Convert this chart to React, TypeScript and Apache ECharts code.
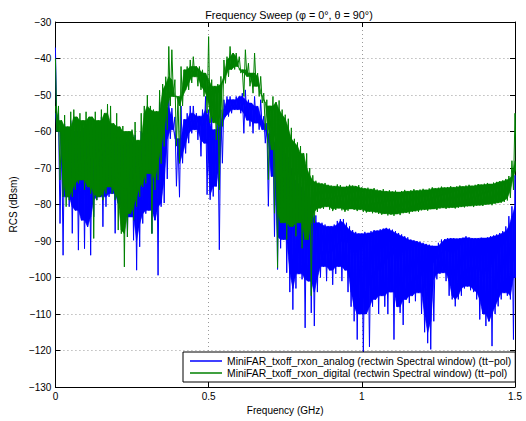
import React, { useEffect, useRef } from "react";
import * as echarts from "echarts";

// Frequency grid: one envelope pair every 0.01 GHz from 0 to 1.5 GHz
const FREQ_START = 0;
const FREQ_STEP = 0.01;

// Tick values
const xTicks = [0, 0.5, 1, 1.5];
const yTicks = [-130, -120, -110, -100, -90, -80, -70, -60, -50, -40, -30];

const TITLE = "Frequency Sweep (\u03c6 = 0\u00b0, \u03b8 = 90\u00b0)";
const NAME_ANALOG = "MiniFAR_txoff_rxon_analog (rectwin Spectral window) (tt\u2212pol)";
const NAME_DIGITAL = "MiniFAR_txoff_rxon_digital (rectwin Spectral window) (tt\u2212pol)";

// Digital (green) trace: upper and lower extremes of the noisy trace, per 0.01 GHz
const digitalPeak = [
  -40, -53, -57, -55.5, -58.7, -54.6, -54, -56, -55, -57,
  -54.6, -56, -56, -54.6, -57, -54, -55, -52.5, -53, -57.8,
  -55, -58.7, -58.5, -60, -60, -59.5, -57.4, -62.4, -55, -53,
  -50, -53, -54, -54.5, -48.7, -47, -45, -36.7, -37.6, -45.8,
  -50.4, -42.2, -43.1, -42.2, -40.4, -39.5, -42.2, -42.2, -43.1, -44,
  -34, -45.8, -47.6, -47, -44.9, -40.4, -39.5, -36.7, -38.5, -38.5,
  -39.5, -43.1, -37.6, -41.3, -44, -38.5, -44, -44.9, -49.5, -51.3,
  -53, -50.4, -52, -51.5, -54, -55.4, -56.5, -59, -62, -63,
  -64, -66, -66, -70, -72, -73.5, -74, -74.3, -74.1, -74.6,
  -74.8, -75, -74.5, -74.7, -75.2, -74.9, -74.6, -74.8, -75, -74.7,
  -75.3, -75.6, -75.4, -75.8, -75.5, -75.9, -76.2, -75.8, -76.4, -76.1,
  -76.5, -76.2, -76.6, -76.3, -76, -76.4, -76.1, -75.8, -76.2, -75.9,
  -75.7, -76, -75.6, -75.3, -75.6, -75.4, -75.1, -75.4, -75.2, -75,
  -75.3, -75, -74.8, -75.1, -74.8, -74.6, -74.9, -74.6, -74.4, -74.6,
  -74.3, -74.1, -74.4, -74, -73.8, -73.6, -73.4, -73, -72.2, -68,
  -55,
];
const digitalTrough = [
  -60, -73.3, -77.9, -80.6, -78.8, -77.9, -76, -74.2, -73.3, -76,
  -75.2, -77, -89.3, -78.8, -77.9, -78.8, -77, -75.2, -77, -78.8,
  -87, -88, -97.1, -88.9, -82.5, -84.3, -80.6, -77.9, -75.2, -74.2,
  -71.5, -88, -76, -73.3, -68.8, -64.1, -59.5, -53, -50.4, -64,
  -68.7, -53, -48.6, -48.6, -46.7, -45, -47.6, -48.6, -50.4, -54.9,
  -57.6, -57.6, -62.3, -76, -58.6, -46.8, -45, -43, -43, -42.2,
  -44, -50.4, -44.9, -47.6, -49.5, -47.6, -50.4, -52.2, -59.5, -73.2,
  -65, -82.4, -97.3, -85, -85, -89.6, -86, -86, -88.7, -85,
  -92, -89.6, -89.6, -105, -85, -82, -81, -81.2, -80.6, -81.4,
  -81.8, -81.5, -81, -81.6, -82, -81.7, -81.2, -81.5, -81.8, -81.4,
  -82, -82.2, -81.9, -82.4, -82.1, -82.6, -82.8, -82.5, -83, -82.7,
  -83.1, -82.6, -82.9, -82.4, -82.2, -82.5, -82, -81.8, -82, -81.6,
  -81.4, -81.7, -81.3, -81.2, -81.5, -81.1, -80.9, -81.2, -81, -80.8,
  -81.1, -80.9, -80.6, -80.8, -80.5, -80.4, -80.7, -80.3, -80.2, -80.4,
  -80.1, -79.9, -80.2, -79.8, -79.6, -79.5, -79.3, -78.9, -78.2, -76,
  -70,
];

// Analog (blue) trace: upper and lower extremes per 0.01 GHz
const analogPeak = [
  -37, -55, -60, -58, -61, -57, -60, -58, -60, -59,
  -58, -60, -59, -57, -60, -56, -58, -57, -58, -60,
  -59, -61, -62, -63, -62, -63, -61, -64, -60, -59,
  -57, -58, -58, -57, -52, -53, -52, -51, -53.6, -56,
  -62, -53, -56.7, -55, -53, -53, -55, -55.8, -54, -50.4,
  -54, -55.8, -59.5, -57.7, -54, -51.3, -50.4, -50.4, -51.3, -50.4,
  -50.4, -49.5, -48.6, -51.3, -52.2, -50.4, -53.1, -51.3, -55.8, -57.7,
  -59.5, -61.4, -62, -64, -63, -66, -67, -70, -72, -73,
  -74, -75, -76, -78, -80, -83, -85, -85, -85.5, -86,
  -86, -85.5, -84.5, -84, -84, -85, -86, -87, -87.5, -88,
  -88, -87.5, -87.8, -87.3, -87, -87.2, -86.8, -86.6, -86.4, -86.6,
  -86.9, -87.3, -87.8, -88.2, -88.7, -89, -89.6, -89.8, -90, -90.2,
  -90.5, -90.8, -91, -91.3, -91.4, -90.5, -89.6, -89.5, -89.2, -89.3,
  -89.2, -89.4, -89.2, -89.1, -88.7, -89, -89.2, -89.3, -89.2, -89.1,
  -89.2, -89, -88.7, -88.5, -88.2, -87.8, -87.3, -86, -83.2, -80.5,
  -72,
];
const analogTrough = [
  -60, -85.2, -93.9, -77.9, -80.6, -87.9, -81.6, -92.5, -84.3, -92.1,
  -86.1, -93.9, -83.4, -78.8, -77.9, -86.1, -80.6, -77.9, -77, -87.9,
  -79.7, -80.6, -86.1, -88.9, -83.4, -89.8, -98, -91.6, -85.2, -82.5,
  -81.6, -87.9, -84.3, -99.4, -80.6, -79.6, -73, -62, -59.5, -75,
  -78, -68.7, -66, -63.2, -60.5, -59.5, -62.3, -66.8, -63.2, -77.3,
  -78.7, -77.8, -75, -92.4, -68.7, -55.9, -55.9, -55, -54, -54,
  -55, -60.5, -56.9, -58.6, -60.5, -57.7, -59.5, -59.5, -63.2, -80.5,
  -72.3, -88.8, -97.8, -92, -89.6, -98.7, -104, -108.8, -103, -99,
  -100.5, -113.8, -101, -109.7, -113.3, -104, -100, -97, -101, -98,
  -102, -99, -97, -101, -98, -104, -108, -112, -117, -110,
  -121, -110, -119, -108, -106, -110, -105, -108, -110, -104,
  -117, -108, -109.7, -113, -106, -107, -105, -106.5, -104.2, -110,
  -115, -118, -119.7, -112, -100.5, -99, -98.7, -101, -105, -106,
  -107.9, -106, -105, -103, -102.4, -103.5, -104, -106, -111.5, -110,
  -113.3, -112, -118.8, -110, -107.9, -106, -104.2, -105, -106, -117,
  -100,
];

const FONT = "'Liberation Sans', Arial, Helvetica, sans-serif";
const HALF = FREQ_STEP / 2;

const freqAt = (i: number) => +(FREQ_START + i * FREQ_STEP).toFixed(4);

// Alternate each sample's peak and trough: the noisy trace itself
function buildTrace(peak: number[], trough: number[]): number[][] {
  const out: number[][] = [];
  for (let i = 0; i < peak.length; i++) {
    out.push([freqAt(i), peak[i]]);
    out.push([+(freqAt(i) + HALF).toFixed(4), trough[i]]);
  }
  return out;
}

// Dense core of the noise: the part covered by every neighbouring excursion
function buildCore(peak: number[], trough: number[]): number[][] {
  const n = peak.length;
  const top: number[] = [];
  const bot: number[] = [];
  for (let i = 0; i < n; i++) {
    const a = Math.max(0, i - 1);
    const b = Math.min(n - 1, i + 1);
    top.push(Math.min(peak[a], peak[i], peak[b]));
    bot.push(Math.max(trough[a], trough[i], trough[b]));
  }
  const out: number[][] = [];
  for (let i = 0; i < n - 1; i++) {
    out.push([freqAt(i), freqAt(i + 1), top[i], top[i + 1], bot[i], bot[i + 1]]);
  }
  return out;
}

function coreRenderer(color: string) {
  return (params: any, api: any) => {
    const f0 = api.value(0);
    const f1 = api.value(1);
    const t0 = api.value(2);
    const t1 = api.value(3);
    const b0 = api.value(4);
    const b1 = api.value(5);
    const pts = [
      api.coord([f0, t0]),
      api.coord([f1, t1]),
      api.coord([f1 + HALF, Math.min(b1, t1)]),
      api.coord([f0 + HALF, Math.min(b0, t0)]),
    ];
    return {
      type: "polygon",
      shape: { points: pts },
      style: { fill: color, stroke: color, lineWidth: 0.6 },
      silent: true,
    };
  };
}

export default function App() {
  const ref = useRef<HTMLDivElement | null>(null);

  useEffect(() => {
    if (!ref.current) return;
    const chart = echarts.init(ref.current, undefined, { renderer: "svg" });
    const minus = (v: number) => String(v).replace("-", "\u2212");
    const gridLine = { show: true, lineStyle: { color: "#9a9a9a", type: [1, 3] as any, width: 1 } };
    const axisLine = { show: true, onZero: false, lineStyle: { color: "#000", width: 1 } };
    const tick = { show: true, inside: true, length: 5, lineStyle: { color: "#000", width: 1 } };
    const BLUE = "#0000ff";
    const GREEN = "#008000";

    chart.setOption({
      animation: false,
      backgroundColor: "#ffffff",
      title: {
        text: TITLE,
        left: 284,
        top: 4,
        textAlign: "center",
        textStyle: { fontSize: 10.8, fontWeight: "normal", color: "#000", fontFamily: FONT },
      },
      grid: { left: 53, right: 11, top: 22, bottom: 34, containLabel: false },
      legend: {
        orient: "vertical",
        left: 183,
        top: 352,
        backgroundColor: "#ffffff",
        borderColor: "#000",
        borderWidth: 1,
        borderRadius: 0,
        padding: [3, 4, 3, 7],
        itemGap: 0,
        itemWidth: 32,
        itemHeight: 1.5,
        textStyle: { fontSize: 10.4, lineHeight: 12, color: "#000", fontFamily: FONT },
        data: [
          { name: NAME_ANALOG, icon: "rect" },
          { name: NAME_DIGITAL, icon: "rect" },
        ],
      },
      xAxis: [
        {
          type: "value",
          min: xTicks[0],
          max: xTicks[xTicks.length - 1],
          interval: 0.5,
          position: "bottom",
          name: "Frequency (GHz)",
          nameLocation: "middle",
          nameGap: 16,
          nameTextStyle: { fontSize: 10, color: "#000", fontFamily: FONT },
          axisLine,
          axisTick: tick,
          axisLabel: { margin: 4, fontSize: 10, color: "#000", fontFamily: FONT, formatter: (v: number) => String(v) },
          splitLine: gridLine,
        },
        {
          type: "value",
          min: xTicks[0],
          max: xTicks[xTicks.length - 1],
          interval: 0.5,
          position: "top",
          axisLine,
          axisTick: tick,
          axisLabel: { show: false },
          splitLine: { show: false },
        },
      ],
      yAxis: [
        {
          type: "value",
          min: yTicks[0],
          max: yTicks[yTicks.length - 1],
          interval: 10,
          position: "left",
          name: "RCS (dBsm)",
          nameLocation: "middle",
          nameGap: 28,
          nameTextStyle: { fontSize: 10, color: "#000", fontFamily: FONT },
          axisLine,
          axisTick: tick,
          axisLabel: { margin: 4, fontSize: 10, color: "#000", fontFamily: FONT, formatter: minus },
          splitLine: gridLine,
        },
        {
          type: "value",
          min: yTicks[0],
          max: yTicks[yTicks.length - 1],
          interval: 10,
          position: "right",
          axisLine,
          axisTick: tick,
          axisLabel: { show: false },
          splitLine: { show: false },
        },
      ],
      series: [
        {
          name: NAME_ANALOG,
          type: "custom",
          xAxisIndex: 0,
          yAxisIndex: 0,
          clip: true,
          silent: true,
          z: 2,
          itemStyle: { color: BLUE },
          encode: { x: [0, 1], y: [2, 3, 4, 5] },
          renderItem: coreRenderer(BLUE),
          data: buildCore(analogPeak, analogTrough),
        },
        {
          name: NAME_ANALOG,
          type: "line",
          xAxisIndex: 0,
          yAxisIndex: 0,
          data: buildTrace(analogPeak, analogTrough),
          showSymbol: false,
          symbol: "none",
          clip: true,
          silent: true,
          z: 2,
          lineStyle: { color: BLUE, width: 1 },
          itemStyle: { color: BLUE },
        },
        {
          name: NAME_DIGITAL,
          type: "custom",
          xAxisIndex: 0,
          yAxisIndex: 0,
          clip: true,
          silent: true,
          z: 3,
          itemStyle: { color: GREEN },
          encode: { x: [0, 1], y: [2, 3, 4, 5] },
          renderItem: coreRenderer(GREEN),
          data: buildCore(digitalPeak, digitalTrough),
        },
        {
          name: NAME_DIGITAL,
          type: "line",
          xAxisIndex: 0,
          yAxisIndex: 0,
          data: buildTrace(digitalPeak, digitalTrough),
          showSymbol: false,
          symbol: "none",
          clip: true,
          silent: true,
          z: 3,
          lineStyle: { color: GREEN, width: 1 },
          itemStyle: { color: GREEN },
        },
      ],
    });
    return () => chart.dispose();
  }, []);

  return (
    <div
      ref={ref}
      style={{ position: "fixed", left: 0, top: 0, width: 526, height: 421, background: "#fff" }}
    />
  );
}
